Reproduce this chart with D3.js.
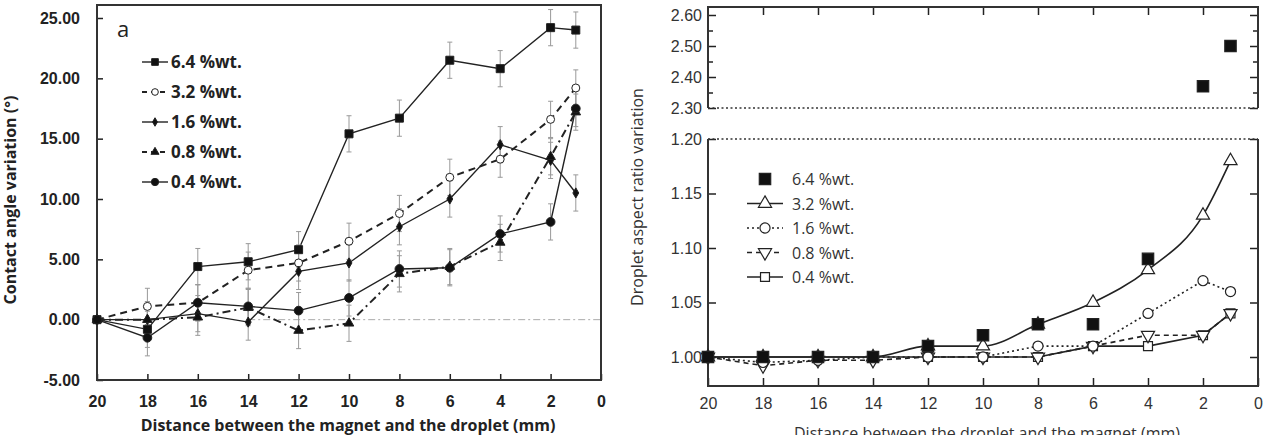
<!DOCTYPE html>
<html>
<head>
<meta charset="utf-8">
<script src="https://cdn.jsdelivr.net/npm/d3@7"></script>
<style>
  body { margin: 0; background: #fff; }
  svg { display: block; font-family: "Open Sans", Lato, sans-serif; }
  .axl text { font-weight: bold; font-size: 16px; fill: #222; }
  .axr text { font-size: 16px; fill: #333; }
</style>
</head>
<body>
<script>
// distances (mm)
var distances = [20, 18, 16, 14, 12, 10, 8, 6, 4, 2, 1];
var xTicks = [20, 18, 16, 14, 12, 10, 8, 6, 4, 2, 0];
var seriesNames = ["6.4 %wt.", "3.2 %wt.", "1.6 %wt.", "0.8 %wt.", "0.4 %wt."];

// panel a : contact angle variation (deg)
var angle64 = [0, -0.8, 4.4, 4.8, 5.8, 15.4, 16.7, 21.5, 20.8, 24.2, 24.0];
var angle32 = [0, 1.1, 1.4, 4.1, 4.7, 6.5, 8.8, 11.8, 13.3, 16.6, 19.2];
var angle16 = [0, 0.0, 0.5, -0.2, 4.0, 4.7, 7.7, 10.0, 14.5, 13.2, 10.5];
var angle08 = [0, 0.0, 0.2, 1.0, -0.9, -0.3, 3.8, 4.4, 6.4, 13.5, 17.2];
var angle04 = [0, -1.5, 1.4, 1.1, 0.75, 1.8, 4.2, 4.3, 7.1, 8.1, 17.5];
var angleError = 1.5;
var angleTicks = [-5, 0, 5, 10, 15, 20, 25];

// panel b : droplet aspect ratio variation
var ratio64 = [1.00, 1.00, 1.00, 1.00, 1.01, 1.02, 1.03, 1.03, 1.09, 2.37, 2.50];
var ratio32 = [1.00, 1.00, 1.00, 1.00, 1.01, 1.01, 1.03, 1.05, 1.08, 1.13, 1.18];
var ratio16 = [1.00, 0.995, 0.997, 1.00, 1.00, 1.00, 1.01, 1.01, 1.04, 1.07, 1.06];
var ratio08 = [1.00, 0.992, 0.997, 0.997, 1.00, 1.00, 1.00, 1.01, 1.02, 1.02, 1.04];
var ratio04 = [1.00, 1.00, 1.00, 1.00, 1.00, 1.00, 1.00, 1.01, 1.01, 1.02, 1.04];
var ratioTicksLow = [1.00, 1.05, 1.10, 1.15, 1.20];
var ratioTicksHigh = [2.30, 2.40, 2.50, 2.60];
var ratioMinorHigh = [2.35, 2.45, 2.55];

var svg = d3.select("body").append("svg").attr("width", 1267).attr("height", 435);

// ---------------- panel a ----------------
var xA = d3.scaleLinear().domain([20, 0]).range([97, 601]);
var yA = d3.scaleLinear().domain([-5, 25]).range([380, 18]);
var gA = svg.append("g");
var fmt2 = function(d) { return d.toFixed(2); };

gA.append("line").attr("x1", xA(14)).attr("x2", xA(0)).attr("y1", yA(0)).attr("y2", yA(0))
  .attr("stroke", "#aaa").attr("stroke-width", 1).attr("stroke-dasharray", "7,3,2,3");

gA.append("g").attr("class", "axl").attr("transform", "translate(0,380)")
  .call(d3.axisBottom(xA).tickValues(xTicks).tickSizeInner(-6).tickSizeOuter(0).tickPadding(16))
  .call(function(g) { g.select(".domain").remove(); });
gA.append("g").attr("class", "axl").attr("transform", "translate(97,0)")
  .call(d3.axisLeft(yA).tickValues(angleTicks).tickFormat(fmt2).tickSizeInner(-6).tickSizeOuter(0).tickPadding(17))
  .call(function(g) { g.select(".domain").remove(); });
gA.selectAll(".tick line").attr("stroke", "#222").attr("stroke-width", 1.5);

gA.append("rect").attr("x", 97).attr("y", 5).attr("width", 504).attr("height", 375)
  .attr("fill", "none").attr("stroke", "#333").attr("stroke-width", 2);

var seriesA = [
  { name: seriesNames[0], values: angle64, sym: d3.symbolSquare, size: 64, fill: "#111", dash: null, w: 1.4 },
  { name: seriesNames[1], values: angle32, sym: d3.symbolCircle, size: 50, fill: "#fff", dash: "7,5", w: 2 },
  { name: seriesNames[2], values: angle16, sym: d3.symbolDiamond, size: 30, fill: "#111", dash: null, w: 1.4 },
  { name: seriesNames[3], values: angle08, sym: d3.symbolTriangle, size: 40, fill: "#111", dash: "8,4,2,4", w: 2 },
  { name: seriesNames[4], values: angle04, sym: d3.symbolCircle, size: 60, fill: "#111", dash: null, w: 1.4 }
];

var lineA = d3.line().x(function(d) { return xA(d[0]); }).y(function(d) { return yA(d[1]); });

seriesA.forEach(function(s) {
  var pts = distances.map(function(x, i) { return [x, s.values[i]]; });
  var eb = gA.append("g").attr("stroke", "#999").attr("stroke-width", 1);
  pts.slice(1).forEach(function(p) {
    eb.append("line").attr("x1", xA(p[0])).attr("x2", xA(p[0]))
      .attr("y1", yA(p[1] - angleError)).attr("y2", yA(p[1] + angleError));
    [-1, 1].forEach(function(k) {
      eb.append("line").attr("x1", xA(p[0]) - 2.5).attr("x2", xA(p[0]) + 2.5)
        .attr("y1", yA(p[1] + k * angleError)).attr("y2", yA(p[1] + k * angleError));
    });
  });
  gA.append("path").datum(pts).attr("d", lineA).attr("fill", "none")
    .attr("stroke", "#222").attr("stroke-width", s.w).attr("stroke-dasharray", s.dash);
});
seriesA.forEach(function(s) {
  gA.append("g").selectAll("path").data(distances).enter().append("path")
    .attr("transform", function(d, i) { return "translate(" + xA(d) + "," + yA(s.values[i]) + ")"; })
    .attr("d", d3.symbol().type(s.sym).size(s.size))
    .attr("fill", s.fill).attr("stroke", "#222").attr("stroke-width", 1);
});

// legend a
var legA = gA.append("g");
seriesA.forEach(function(s, i) {
  var y = 62 + i * 30;
  legA.append("line").attr("x1", 142).attr("x2", 168).attr("y1", y).attr("y2", y)
    .attr("stroke", "#222").attr("stroke-width", s.w).attr("stroke-dasharray", s.dash ? "5,4" : null);
  legA.append("path").attr("transform", "translate(155," + y + ")")
    .attr("d", d3.symbol().type(s.sym).size(s.size * 0.7)).attr("fill", s.fill).attr("stroke", "#222");
  legA.append("text").attr("x", 171).attr("y", y + 6).attr("font-size", 17).attr("font-weight", "bold")
    .attr("fill", "#222").text(s.name);
});
gA.append("text").attr("x", 117).attr("y", 37).attr("font-size", 22).attr("fill", "#222").text("a");

gA.append("text").attr("x", 348).attr("y", 431).attr("text-anchor", "middle")
  .attr("font-size", 16).attr("font-weight", "bold").attr("fill", "#222")
  .text("Distance between the magnet and the droplet (mm)");
gA.append("text").attr("transform", "translate(16,200) rotate(-90)").attr("text-anchor", "middle")
  .attr("font-size", 16).attr("font-weight", "bold").attr("fill", "#222")
  .text("Contact angle variation (°)");

// ---------------- panel b ----------------
var xB = d3.scaleLinear().domain([20, 0]).range([708, 1258]);
var yHigh = d3.scaleLinear().domain([2.3, 2.6]).range([108, 15]);
var yLow = d3.scaleLinear().domain([1.0, 1.2]).range([357, 139]);
var gB = svg.append("g").attr("class", "axr");

function yB(v) { return v > 2 ? yHigh(v) : yLow(v); }

// bottom axis
gB.append("g").attr("transform", "translate(0,386)")
  .call(d3.axisBottom(xB).tickValues(xTicks).tickSizeInner(-8).tickSizeOuter(0).tickPadding(12))
  .call(function(g) { g.select(".domain").remove(); });
// top edge ticks
gB.append("g").attr("transform", "translate(0,7)")
  .call(d3.axisTop(xB).tickValues(xTicks.slice(1, 10)).tickSizeInner(-8).tickSizeOuter(0).tickFormat(""))
  .call(function(g) { g.select(".domain").remove(); });
// left axes
gB.append("g").attr("transform", "translate(708,0)")
  .call(d3.axisLeft(yLow).tickValues(ratioTicksLow).tickFormat(fmt2).tickSizeInner(-8).tickSizeOuter(0).tickPadding(6))
  .call(function(g) { g.select(".domain").remove(); });
gB.append("g").attr("transform", "translate(708,0)")
  .call(d3.axisLeft(yHigh).tickValues(ratioTicksHigh).tickFormat(fmt2).tickSizeInner(-8).tickSizeOuter(0).tickPadding(6))
  .call(function(g) { g.select(".domain").remove(); });
gB.append("g").attr("transform", "translate(708,0)")
  .call(d3.axisLeft(yHigh).tickValues(ratioMinorHigh).tickFormat("").tickSizeInner(-5).tickSizeOuter(0))
  .call(function(g) { g.select(".domain").remove(); });
// right axes
gB.append("g").attr("transform", "translate(1258,0)")
  .call(d3.axisRight(yLow).tickValues(ratioTicksLow).tickFormat("").tickSizeInner(-8).tickSizeOuter(0))
  .call(function(g) { g.select(".domain").remove(); });
gB.append("g").attr("transform", "translate(1258,0)")
  .call(d3.axisRight(yHigh).tickValues(ratioTicksHigh).tickFormat("").tickSizeInner(-8).tickSizeOuter(0))
  .call(function(g) { g.select(".domain").remove(); });
gB.append("g").attr("transform", "translate(1258,0)")
  .call(d3.axisRight(yHigh).tickValues(ratioMinorHigh).tickFormat("").tickSizeInner(-5).tickSizeOuter(0))
  .call(function(g) { g.select(".domain").remove(); });
gB.selectAll(".tick line").attr("stroke", "#222").attr("stroke-width", 1.5);

// frames of the broken axis
var fr = gB.append("g").attr("stroke", "#333").attr("fill", "none");
fr.append("path").attr("d", "M708,108V7H1258V108").attr("stroke-width", 2);
fr.append("path").attr("d", "M708,139V386H1258V139").attr("stroke-width", 2);
fr.append("line").attr("x1", 708).attr("x2", 1258).attr("y1", 108).attr("y2", 108)
  .attr("stroke-width", 1.5).attr("stroke-dasharray", "2,2.5");
fr.append("line").attr("x1", 708).attr("x2", 1258).attr("y1", 139).attr("y2", 139)
  .attr("stroke-width", 1.5).attr("stroke-dasharray", "2,2.5");

var seriesB = [
  { name: seriesNames[0], values: ratio64, sym: d3.symbolSquare, size: 130, fill: "#111", dash: null, line: false, rot: 0 },
  { name: seriesNames[1], values: ratio32, sym: d3.symbolTriangle, size: 75, fill: "#fff", dash: null, line: true, curve: true, rot: 0 },
  { name: seriesNames[2], values: ratio16, sym: d3.symbolCircle, size: 80, fill: "#fff", dash: "2,3", line: true, rot: 0 },
  { name: seriesNames[3], values: ratio08, sym: d3.symbolTriangle, size: 75, fill: "#fff", dash: "5,4", line: true, rot: 180 },
  { name: seriesNames[4], values: ratio04, sym: d3.symbolSquare, size: 80, fill: "#fff", dash: null, line: true, rot: 0 }
];

seriesB.slice().reverse().forEach(function(s) {
  if (!s.line) return;
  var pts = distances.map(function(x, i) { return [x, s.values[i]]; });
  var ln = d3.line().x(function(d) { return xB(d[0]); }).y(function(d) { return yB(d[1]); })
    .curve(s.curve ? d3.curveMonotoneX : d3.curveLinear);
  gB.append("path").datum(pts).attr("d", ln).attr("fill", "none")
    .attr("stroke", "#222").attr("stroke-width", 1.6).attr("stroke-dasharray", s.dash);
});
seriesB.slice().reverse().forEach(function(s) {
  gB.append("g").selectAll("path").data(distances).enter().append("path")
    .attr("transform", function(d, i) { return "translate(" + xB(d) + "," + yB(s.values[i]) + ") rotate(" + s.rot + ")"; })
    .attr("d", d3.symbol().type(s.sym).size(s.size))
    .attr("fill", s.fill).attr("stroke", "#222").attr("stroke-width", 1.2);
});

// legend b
var legB = gB.append("g");
seriesB.forEach(function(s, i) {
  var y = 179 + i * 24.5;
  if (s.line) {
    legB.append("line").attr("x1", 747).attr("x2", 783).attr("y1", y).attr("y2", y)
      .attr("stroke", "#222").attr("stroke-width", 1.6).attr("stroke-dasharray", s.dash);
  }
  legB.append("path").attr("transform", "translate(765," + y + ") rotate(" + s.rot + ")")
    .attr("d", d3.symbol().type(s.sym).size(s.size)).attr("fill", s.fill).attr("stroke", "#222").attr("stroke-width", 1.2);
  legB.append("text").attr("x", 792).attr("y", y + 6).attr("font-size", 17).attr("fill", "#333").text(s.name);
});

gB.append("text").attr("x", 987).attr("y", 439).attr("text-anchor", "middle")
  .attr("font-size", 17).attr("fill", "#333")
  .text("Distance between the droplet and the magnet (mm)");
gB.append("text").attr("transform", "translate(643,197) rotate(-90)").attr("text-anchor", "middle")
  .attr("font-size", 16).attr("fill", "#333")
  .text("Droplet aspect ratio variation");
</script>
</body>
</html>
